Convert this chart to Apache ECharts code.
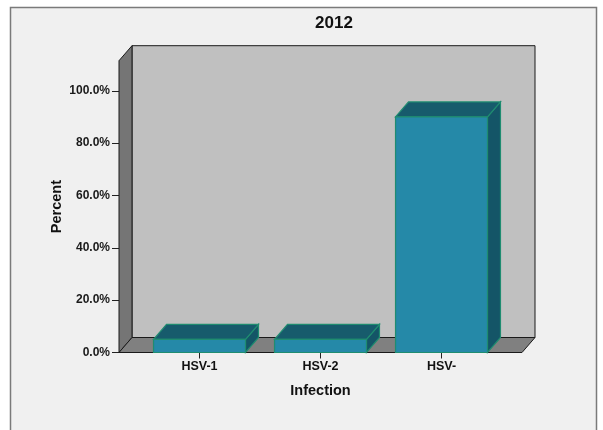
<!DOCTYPE html>
<html>
<head>
<meta charset="utf-8">
<script src="https://cdn.jsdelivr.net/npm/echarts@6/dist/echarts.min.js"></script>
<style>
  html, body { margin: 0; padding: 0; background: #ffffff; }
  #chart { width: 603px; height: 430px; }
</style>
</head>
<body>
<div id="chart"></div>
<script>
// Infection breakdown for 2012, shown as percent of cases
const categories = ['HSV-1', 'HSV-2', 'HSV-'];
const percentValues = [5.0, 5.0, 90.0];
const yTickValues = [0, 20, 40, 60, 80, 100];

// 3D look: depth offset of walls and bars
const DEPTH_X = 13;
const DEPTH_Y = -15;
const FLOOR_PAD = 20;
const FONT = 'Liberation Sans, Arial, sans-serif';

const chart = echarts.init(document.getElementById('chart'), null, { renderer: 'canvas' });

function renderBox(params, api) {
  const cs = params.coordSys;
  const x0 = cs.x - FLOOR_PAD;
  const x1 = cs.x + cs.width + FLOOR_PAD;
  const yTop = cs.y;
  const yBot = cs.y + cs.height;
  const edge = { stroke: '#1a1a1a', lineWidth: 1 };
  return {
    type: 'group',
    children: [
      { type: 'polygon', shape: { points: [[x0 + DEPTH_X, yTop + DEPTH_Y], [x1 + DEPTH_X, yTop + DEPTH_Y], [x1 + DEPTH_X, yBot + DEPTH_Y], [x0 + DEPTH_X, yBot + DEPTH_Y]] },
        style: Object.assign({ fill: '#c0c0c0' }, edge) },
      { type: 'polygon', shape: { points: [[x0, yTop], [x0 + DEPTH_X, yTop + DEPTH_Y], [x0 + DEPTH_X, yBot + DEPTH_Y], [x0, yBot]] },
        style: Object.assign({ fill: '#757575' }, edge) },
      { type: 'polygon', shape: { points: [[x0, yBot], [x1, yBot], [x1 + DEPTH_X, yBot + DEPTH_Y], [x0 + DEPTH_X, yBot + DEPTH_Y]] },
        style: Object.assign({ fill: '#808080' }, edge) }
    ]
  };
}

function renderBar(params, api) {
  const base = api.coord([api.value(0), 0]);
  const top = api.coord([api.value(0), api.value(1)]);
  const w = api.size([1, 0])[0] * 0.76;
  const xl = base[0] - w / 2;
  const xr = base[0] + w / 2;
  const yt = top[1];
  const yb = base[1];
  const edge = { stroke: '#1f8c70', lineWidth: 1.2 };
  return {
    type: 'group',
    children: [
      { type: 'polygon', shape: { points: [[xr, yt], [xr + DEPTH_X, yt + DEPTH_Y], [xr + DEPTH_X, yb + DEPTH_Y], [xr, yb]] },
        style: Object.assign({ fill: '#145567' }, edge) },
      { type: 'polygon', shape: { points: [[xl, yt], [xr, yt], [xr + DEPTH_X, yt + DEPTH_Y], [xl + DEPTH_X, yt + DEPTH_Y]] },
        style: Object.assign({ fill: '#175b6c' }, edge) },
      { type: 'rect', shape: { x: xl, y: yt, width: w, height: yb - yt },
        style: Object.assign({ fill: '#2589a8' }, edge) }
    ]
  };
}

const option = {
  backgroundColor: '#ffffff',
  animation: false,
  graphic: [
    { type: 'rect', z: -10, shape: { x: 10.5, y: 7.5, width: 586, height: 440 },
      style: { fill: '#f0f0f0', stroke: '#7a7a7a', lineWidth: 1.5 } }
  ],
  title: {
    text: '2012',
    left: 329, top: 10, textAlign: 'center',
    textStyle: { fontFamily: FONT, fontSize: 17, fontWeight: 'bold', color: '#111' }
  },
  grid: { left: 139, right: 101, top: 60.7, bottom: 77.5, containLabel: false },
  xAxis: {
    type: 'category',
    data: categories,
    name: 'Infection',
    nameLocation: 'middle',
    nameGap: 31,
    nameTextStyle: { fontFamily: FONT, fontSize: 14.5, fontWeight: 'bold', color: '#111' },
    axisLine: { show: false },
    axisTick: { show: true, alignWithLabel: true, length: 6, lineStyle: { color: '#222' } },
    axisLabel: { margin: 8, fontFamily: FONT, fontSize: 12.5, fontWeight: 'bold', color: '#111' }
  },
  yAxis: {
    type: 'value',
    min: 0, max: 111.5, interval: 20,
    offset: FLOOR_PAD,
    name: 'Percent',
    nameLocation: 'middle',
    nameGap: 55,
    nameMoveOverlap: false,
    nameTextStyle: { fontFamily: FONT, fontSize: 14.5, fontWeight: 'bold', color: '#111' },
    axisLine: { show: true, lineStyle: { color: '#1a1a1a' } },
    axisTick: { show: true, length: 7, customValues: yTickValues, lineStyle: { color: '#222' } },
    splitLine: { show: false },
    axisLabel: {
      customValues: yTickValues,
      margin: 9,
      fontFamily: FONT, fontSize: 12, fontWeight: 'bold', color: '#1a1a1a',
      formatter: v => v.toFixed(1) + '%'
    }
  },
  series: [
    { type: 'custom', z: 1, renderItem: renderBox, data: [[0, 0]], silent: true },
    { type: 'custom', z: 2, renderItem: renderBar,
      data: categories.map((c, i) => [i, percentValues[i]]),
      encode: { x: 0, y: 1 } }
  ]
};

chart.setOption(option);
</script>
</body>
</html>
